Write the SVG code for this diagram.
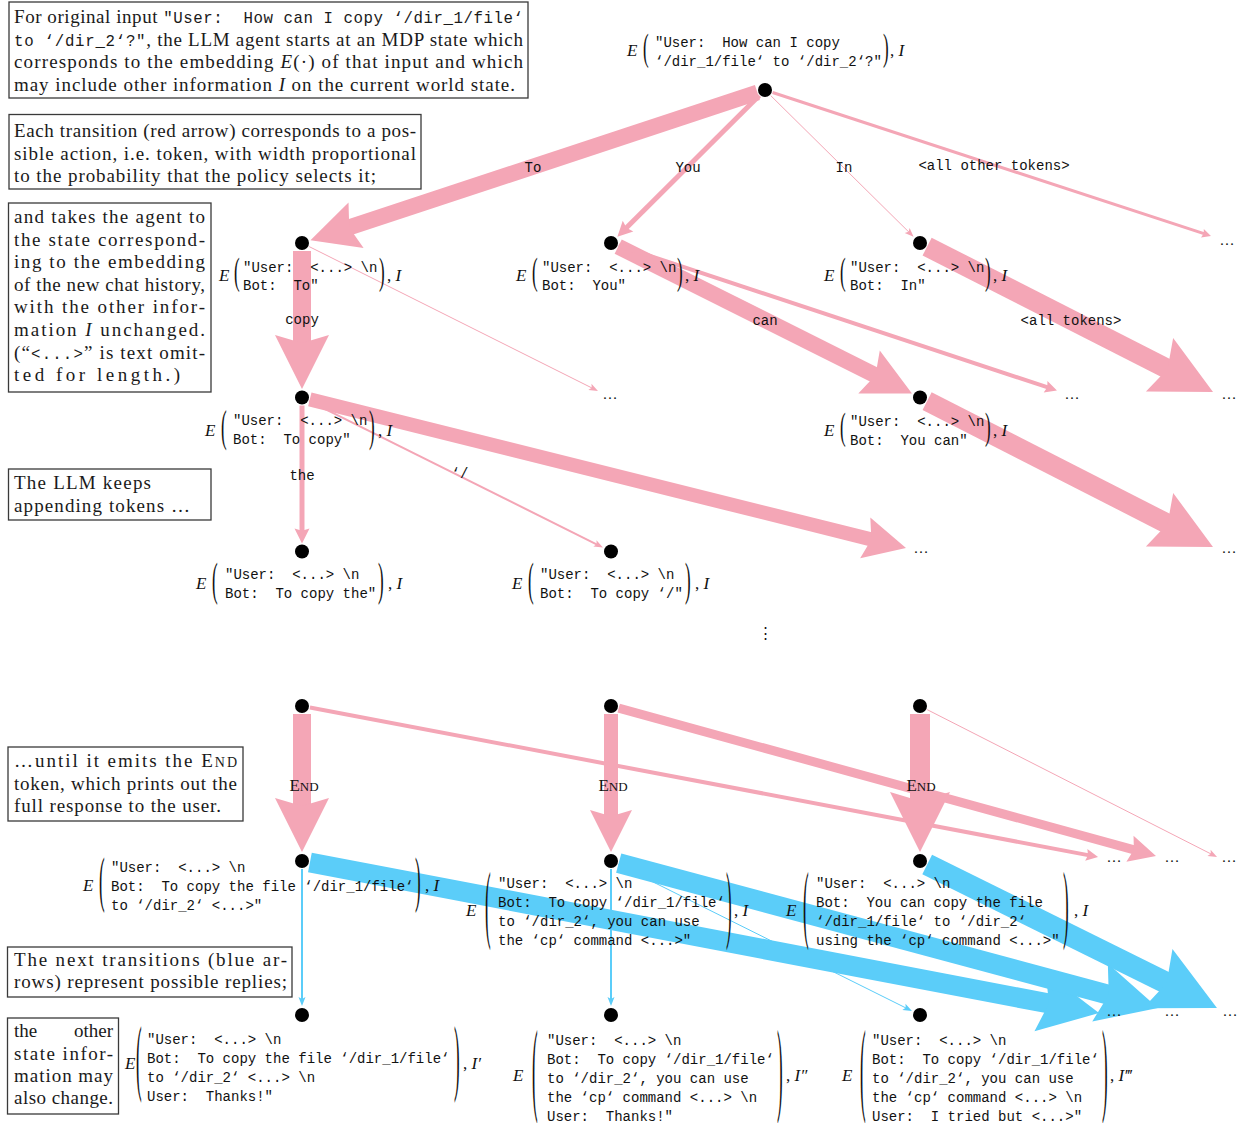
<svg xmlns="http://www.w3.org/2000/svg" width="1239" height="1123" viewBox="0 0 1239 1123" xml:space="preserve">
<style>
text{white-space:pre}
.box{fill:none;stroke:#3a3a3a;stroke-width:1.3}
.bt{font-family:"Liberation Serif","Times New Roman",serif;font-size:19px;fill:#1a1a1a}
.tt{font-family:"Liberation Mono","Courier New",monospace;font-size:15.75px}
.it{font-style:italic}
.lb{font-family:"Liberation Mono","Courier New",monospace;font-size:14px;fill:#111}
.mi{font-family:"Liberation Serif","Times New Roman",serif;font-size:17px;font-style:italic;fill:#111}
.mr{font-family:"Liberation Serif","Times New Roman",serif;font-size:17px;fill:#111}
.par{font-family:"Liberation Serif","Times New Roman",serif;font-size:17px;fill:#111}
.el{font-family:"Liberation Mono","Courier New",monospace;font-size:14px;fill:#111;text-anchor:middle}
.end{font-family:"Liberation Serif","Times New Roman",serif;font-size:17px;fill:#111;text-anchor:middle}
.ell{font-family:"Liberation Serif","Times New Roman",serif;font-size:15px;fill:#111;text-anchor:middle}
.dot{fill:#000}
.r{stroke:#f4a6b6;fill:none}
.b{stroke:#5bcdf9;fill:none}
</style>
<defs>
<marker id="hr" viewBox="0 0 30 30" markerUnits="strokeWidth" markerWidth="3" markerHeight="3" refX="8" refY="15" orient="auto" overflow="visible"><path d="M0,0 L30,15 L0,30 L4.5,15 Z" fill="#f4a6b6"/></marker>
<marker id="hb" viewBox="0 0 30 30" markerUnits="strokeWidth" markerWidth="3" markerHeight="3" refX="8" refY="15" orient="auto" overflow="visible"><path d="M0,0 L30,15 L0,30 L4.5,15 Z" fill="#5bcdf9"/></marker>
<marker id="tr" viewBox="0 0 9 7" markerUnits="userSpaceOnUse" markerWidth="9" markerHeight="7" refX="3" refY="3.5" orient="auto" overflow="visible"><path d="M0,0 L9,3.5 L0,7 L2,3.5 Z" fill="#f4a6b6"/></marker>
<marker id="tb" viewBox="0 0 9 7" markerUnits="userSpaceOnUse" markerWidth="9" markerHeight="7" refX="3" refY="3.5" orient="auto" overflow="visible"><path d="M0,0 L9,3.5 L0,7 L2,3.5 Z" fill="#5bcdf9"/></marker>
</defs>
<rect width="1239" height="1123" fill="#fff"/>

<!-- explanatory boxes -->
<g id="box1">
<rect class="box" x="9" y="2" width="519" height="96"/>
<text class="bt" x="14" y="23" textLength="509" lengthAdjust="spacing">For original input <tspan class="tt">"User:  How can I copy ‘/dir_1/file‘</tspan></text>
<text class="bt" x="14" y="45.5" textLength="509" lengthAdjust="spacing"><tspan class="tt">to ‘/dir_2‘?"</tspan>, the LLM agent starts at an MDP state which</text>
<text class="bt" x="14" y="68" textLength="509" lengthAdjust="spacing">corresponds to the embedding <tspan class="it">E</tspan>(·) of that input and which</text>
<text class="bt" x="14" y="91" textLength="501" lengthAdjust="spacing">may include other information <tspan class="it">I</tspan> on the current world state.</text>
</g>
<g id="box2">
<rect class="box" x="9" y="114.5" width="412" height="74.5"/>
<text class="bt" x="14" y="137" textLength="402" lengthAdjust="spacing">Each transition (red arrow) corresponds to a pos-</text>
<text class="bt" x="14" y="159.5" textLength="402" lengthAdjust="spacing">sible action, i.e. token, with width proportional</text>
<text class="bt" x="14" y="182" textLength="362" lengthAdjust="spacing">to the probability that the policy selects it;</text>
</g>
<g id="box3">
<rect class="box" x="8.5" y="203" width="202.5" height="189"/>
<text class="bt" x="14" y="223" textLength="191" lengthAdjust="spacing">and takes the agent to</text>
<text class="bt" x="14" y="245.5" textLength="191" lengthAdjust="spacing">the state correspond-</text>
<text class="bt" x="14" y="268" textLength="191" lengthAdjust="spacing">ing to the embedding</text>
<text class="bt" x="14" y="290.5" textLength="191" lengthAdjust="spacing">of the new chat history,</text>
<text class="bt" x="14" y="313" textLength="191" lengthAdjust="spacing">with the other infor-</text>
<text class="bt" x="14" y="336" textLength="191" lengthAdjust="spacing">mation <tspan class="it">I</tspan> unchanged.</text>
<text class="bt" x="14" y="358.5" textLength="191" lengthAdjust="spacing">(“<tspan class="tt">&lt;...&gt;</tspan>” is text omit-</text>
<text class="bt" x="14" y="381" textLength="166" lengthAdjust="spacing">ted for length.)</text>
</g>
<g id="box4">
<rect class="box" x="8.5" y="469" width="202.5" height="51"/>
<text class="bt" x="14" y="489" textLength="137" lengthAdjust="spacing">The LLM keeps</text>
<text class="bt" x="14" y="512" textLength="176" lengthAdjust="spacing">appending tokens …</text>
</g>
<g id="box5">
<rect class="box" x="8" y="747" width="235" height="74"/>
<text class="bt" x="14" y="767" textLength="223" lengthAdjust="spacing">…until it emits the E<tspan font-size="14">ND</tspan></text>
<text class="bt" x="14" y="789.5" textLength="223" lengthAdjust="spacing">token, which prints out the</text>
<text class="bt" x="14" y="812" textLength="207" lengthAdjust="spacing">full response to the user.</text>
</g>
<g id="box6">
<rect class="box" x="7.5" y="947" width="284.5" height="50"/>
<text class="bt" x="14" y="966" textLength="273" lengthAdjust="spacing">The next transitions (blue ar-</text>
<text class="bt" x="14" y="988" textLength="273" lengthAdjust="spacing">rows) represent possible replies;</text>
</g>
<g id="box7">
<rect class="box" x="7.5" y="1018" width="111" height="96"/>
<text class="bt" x="14" y="1037">the</text>
<text class="bt" x="113" y="1037" text-anchor="end">other</text>
<text class="bt" x="14" y="1059.5" textLength="99" lengthAdjust="spacing">state infor-</text>
<text class="bt" x="14" y="1082" textLength="99" lengthAdjust="spacing">mation may</text>
<text class="bt" x="14" y="1104" textLength="99" lengthAdjust="spacing">also change.</text>
</g>

<!-- connectors -->
<g id="connectors">
<path class="r" stroke-width="16" d="M757.4,92.5 L343.9,229.2" marker-end="url(#hr)"/>
<path class="r" stroke-width="5" d="M759.3,95.6 L625.2,229" marker-end="url(#hr)"/>
<path class="r" stroke-width="1" d="M770.7,95.6 L909.3,232.5" marker-end="url(#tr)"/>
<path class="r" stroke-width="3" d="M772.6,92.5 L1204.7,233.9" marker-end="url(#hr)"/>
<path class="r" stroke-width="18" d="M302,251 L302,349.4" marker-end="url(#hr)"/>
<path class="r" stroke-width="1" d="M309.2,246.6 L592.6,388.3" marker-end="url(#tr)"/>
<path class="r" stroke-width="16" d="M618.2,246.6 L880.5,377.8" marker-end="url(#hr)"/>
<path class="r" stroke-width="4" d="M618.6,245.5 L1048.6,387.7" marker-end="url(#hr)"/>
<path class="r" stroke-width="20" d="M927.1,246.6 L1173.8,372.1" marker-end="url(#hr)"/>
<path class="r" stroke-width="5" d="M302,405.5 L302,532.5" marker-end="url(#hr)"/>
<path class="r" stroke-width="2" d="M309.2,401.1 L597.6,544.8" marker-end="url(#tr)"/>
<path class="r" stroke-width="14" d="M309.8,399.4 L876.1,540.6" marker-end="url(#hr)"/>
<path class="r" stroke-width="20" d="M927.1,401.1 L1173.8,527" marker-end="url(#hr)"/>
<path class="r" stroke-width="18" d="M302,714 L302,812.4" marker-end="url(#hr)"/>
<path class="r" stroke-width="4" d="M309.9,707.5 L1089.4,855.4" marker-end="url(#hr)"/>
<path class="r" stroke-width="14" d="M611,714 L611,821.2" marker-end="url(#hr)"/>
<path class="r" stroke-width="9" d="M618.7,708.1 L1136.9,850.7" marker-end="url(#hr)"/>
<path class="r" stroke-width="20" d="M920,714 L920,808" marker-end="url(#hr)"/>
<path class="r" stroke-width="1" d="M927.1,709.6 L1211.7,854.3" marker-end="url(#tr)"/>
<path class="b" stroke-width="2" d="M302,869 L302,1000" marker-end="url(#tb)"/>
<path class="b" stroke-width="20" d="M309.9,862.5 L1055.8,1004.8" marker-end="url(#hb)"/>
<path class="b" stroke-width="2" d="M611,869 L611,1000" marker-end="url(#tb)"/>
<path class="b" stroke-width="1" d="M618.2,864.6 L906.6,1008.3" marker-end="url(#tb)"/>
<path class="b" stroke-width="20" d="M618.7,863.1 L1115.5,996.6" marker-end="url(#hb)"/>
<path class="b" stroke-width="22" d="M927.2,864.5 L1173.6,986.5" marker-end="url(#hb)"/>
<text class="el" x="533" y="171.5">To</text>
<text class="el" x="688" y="171.5">You</text>
<text class="el" x="844" y="171.5">In</text>
<text class="el" x="994" y="169.5">&lt;all other tokens&gt;</text>
<text class="el" x="302" y="323.5">copy</text>
<text class="el" x="765" y="324.5">can</text>
<text class="el" x="1071" y="324.5">&lt;all tokens&gt;</text>
<text class="el" x="302" y="479.5">the</text>
<text class="el" x="460" y="478">‘/</text>
<text class="end" x="304" y="791">E<tspan font-size="13">ND</tspan></text>
<text class="end" x="613" y="791">E<tspan font-size="13">ND</tspan></text>
<text class="end" x="921" y="791">E<tspan font-size="13">ND</tspan></text>
</g>

<!-- open ends -->
<g id="open-ends">
<text class="ell" x="1227" y="244.5">…</text>
<text class="ell" x="610" y="398.5">…</text>
<text class="ell" x="1072" y="398.5">…</text>
<text class="ell" x="1229" y="398.5">…</text>
<text class="ell" x="921" y="552.5">…</text>
<text class="ell" x="1229" y="552.5">…</text>
<text class="ell" x="1114" y="861.5">…</text>
<text class="ell" x="1172" y="861.5">…</text>
<text class="ell" x="1229" y="861.5">…</text>
<text class="ell" x="1114" y="1015.5">…</text>
<text class="ell" x="1172" y="1015.5">…</text>
<text class="ell" x="1230" y="1015.5">…</text>
<text class="ell" x="765" y="638" font-size="16">⋮</text>
</g>

<!-- nodes -->
<g id="n-root">
<circle class="dot" cx="765" cy="90" r="7"/>
<text class="mi" x="627" y="55.5">E</text>
<text class="par" transform="translate(643 51) scale(1 2.2)" y="4.25">(</text>
<text class="lb"><tspan x="655" y="46.5">"User:  How can I copy</tspan><tspan x="655" y="65.5">‘/dir_1/file‘ to ‘/dir_2‘?"</tspan></text>
<text class="par" transform="translate(883 51) scale(1 2.2)" y="4.25">)</text>
<text class="mr" x="890" y="55.5">, <tspan class="mi">I</tspan></text>
</g>
<g id="n-to">
<circle class="dot" cx="302" cy="243" r="7"/>
<text class="mi" x="219" y="280.5">E</text>
<text class="par" transform="translate(234 275) scale(1 2.2)" y="4.25">(</text>
<text class="lb"><tspan x="243" y="271.5">"User:  &lt;...&gt; \n</tspan><tspan x="243" y="290">Bot:  To"</tspan></text>
<text class="par" transform="translate(379 275) scale(1 2.2)" y="4.25">)</text>
<text class="mr" x="387" y="280.5">, <tspan class="mi">I</tspan></text>
</g>
<g id="n-you">
<circle class="dot" cx="611" cy="243" r="7"/>
<text class="mi" x="516" y="280.5">E</text>
<text class="par" transform="translate(532 275) scale(1 2.2)" y="4.25">(</text>
<text class="lb"><tspan x="542" y="271.5">"User:  &lt;...&gt; \n</tspan><tspan x="542" y="290">Bot:  You"</tspan></text>
<text class="par" transform="translate(677 275) scale(1 2.2)" y="4.25">)</text>
<text class="mr" x="685" y="280.5">, <tspan class="mi">I</tspan></text>
</g>
<g id="n-in">
<circle class="dot" cx="920" cy="243" r="7"/>
<text class="mi" x="824" y="280.5">E</text>
<text class="par" transform="translate(840 275) scale(1 2.2)" y="4.25">(</text>
<text class="lb"><tspan x="850" y="271.5">"User:  &lt;...&gt; \n</tspan><tspan x="850" y="290">Bot:  In"</tspan></text>
<text class="par" transform="translate(985 275) scale(1 2.2)" y="4.25">)</text>
<text class="mr" x="993" y="280.5">, <tspan class="mi">I</tspan></text>
</g>
<g id="n-tocopy">
<circle class="dot" cx="302" cy="397.5" r="7"/>
<text class="mi" x="205" y="435.5">E</text>
<text class="par" transform="translate(221 430) scale(1 2.6)" y="4.25">(</text>
<text class="lb"><tspan x="233" y="425">"User:  &lt;...&gt; \n</tspan><tspan x="233" y="444">Bot:  To copy"</tspan></text>
<text class="par" transform="translate(369 430) scale(1 2.6)" y="4.25">)</text>
<text class="mr" x="378" y="435.5">, <tspan class="mi">I</tspan></text>
</g>
<g id="n-youcan">
<circle class="dot" cx="920" cy="397.5" r="7"/>
<text class="mi" x="824" y="435.5">E</text>
<text class="par" transform="translate(840 430) scale(1 2.2)" y="4.25">(</text>
<text class="lb"><tspan x="850" y="426">"User:  &lt;...&gt; \n</tspan><tspan x="850" y="444.5">Bot:  You can"</tspan></text>
<text class="par" transform="translate(985 430) scale(1 2.2)" y="4.25">)</text>
<text class="mr" x="993" y="435.5">, <tspan class="mi">I</tspan></text>
</g>
<g id="n-tocopythe">
<circle class="dot" cx="302" cy="551.5" r="7"/>
<text class="mi" x="196" y="589">E</text>
<text class="par" transform="translate(212 583.5) scale(1 2.75)" y="4.25">(</text>
<text class="lb"><tspan x="225" y="578.5">"User:  &lt;...&gt; \n</tspan><tspan x="225" y="597.5">Bot:  To copy the"</tspan></text>
<text class="par" transform="translate(378 583.5) scale(1 2.75)" y="4.25">)</text>
<text class="mr" x="388" y="589">, <tspan class="mi">I</tspan></text>
</g>
<g id="n-tocopyslash">
<circle class="dot" cx="611" cy="551.5" r="7"/>
<text class="mi" x="512" y="589">E</text>
<text class="par" transform="translate(528 583.5) scale(1 2.75)" y="4.25">(</text>
<text class="lb"><tspan x="540" y="578.5">"User:  &lt;...&gt; \n</tspan><tspan x="540" y="597.5">Bot:  To copy ‘/"</tspan></text>
<text class="par" transform="translate(685 583.5) scale(1 2.75)" y="4.25">)</text>
<text class="mr" x="695" y="589">, <tspan class="mi">I</tspan></text>
</g>
<g id="n-h1"><circle class="dot" cx="302" cy="706" r="7"/></g>
<g id="n-h2"><circle class="dot" cx="611" cy="706" r="7"/></g>
<g id="n-h3"><circle class="dot" cx="920" cy="706" r="7"/></g>
<g id="n-end1">
<circle class="dot" cx="302" cy="861" r="7"/>
<text class="mi" x="83" y="890.5">E</text>
<text class="par" transform="translate(99 885) scale(1 3.6)" y="4.25">(</text>
<text class="lb"><tspan x="111" y="871.5">"User:  &lt;...&gt; \n</tspan><tspan x="111" y="890.5">Bot:  To copy the file ‘/dir_1/file‘</tspan><tspan x="111" y="909.5">to ‘/dir_2‘ &lt;...&gt;"</tspan></text>
<text class="par" transform="translate(415 885) scale(1 3.6)" y="4.25">)</text>
<text class="mr" x="425" y="890.5">, <tspan class="mi">I</tspan></text>
</g>
<g id="n-end2">
<circle class="dot" cx="611" cy="861" r="7"/>
<text class="mi" x="466" y="916">E</text>
<text class="par" transform="translate(485 910) scale(1 5.1)" y="4.25">(</text>
<text class="lb"><tspan x="498" y="887.5">"User:  &lt;...&gt; \n</tspan><tspan x="498" y="906.5">Bot:  To copy ‘/dir_1/file‘</tspan><tspan x="498" y="925.5">to ‘/dir_2‘, you can use</tspan><tspan x="498" y="944.5">the ‘cp‘ command &lt;...&gt;"</tspan></text>
<text class="par" transform="translate(726 910) scale(1 5.1)" y="4.25">)</text>
<text class="mr" x="734" y="916">, <tspan class="mi">I</tspan></text>
</g>
<g id="n-end3">
<circle class="dot" cx="920" cy="861" r="7"/>
<text class="mi" x="786" y="916">E</text>
<text class="par" transform="translate(803 910) scale(1 5.1)" y="4.25">(</text>
<text class="lb"><tspan x="816" y="887.5">"User:  &lt;...&gt; \n</tspan><tspan x="816" y="906.5">Bot:  You can copy the file</tspan><tspan x="816" y="925.5">‘/dir_1/file‘ to ‘/dir_2‘</tspan><tspan x="816" y="944.5">using the ‘cp‘ command &lt;...&gt;"</tspan></text>
<text class="par" transform="translate(1063 910) scale(1 5.1)" y="4.25">)</text>
<text class="mr" x="1074" y="916">, <tspan class="mi">I</tspan></text>
</g>
<g id="n-reply1">
<circle class="dot" cx="302" cy="1015" r="7"/>
<text class="mi" x="125" y="1069">E</text>
<text class="par" transform="translate(136 1064) scale(1 5)" y="4.25">(</text>
<text class="lb"><tspan x="147" y="1043.5">"User:  &lt;...&gt; \n</tspan><tspan x="147" y="1062.5">Bot:  To copy the file ‘/dir_1/file‘</tspan><tspan x="147" y="1081.5">to ‘/dir_2‘ &lt;...&gt; \n</tspan><tspan x="147" y="1100.5">User:  Thanks!"</tspan></text>
<text class="par" transform="translate(454 1064) scale(1 5)" y="4.25">)</text>
<text class="mr" x="463" y="1069">, <tspan class="mi">I′</tspan></text>
</g>
<g id="n-reply2">
<circle class="dot" cx="611" cy="1015" r="7"/>
<text class="mi" x="513" y="1081">E</text>
<text class="par" transform="translate(532 1076) scale(1 6.1)" y="4.25">(</text>
<text class="lb"><tspan x="547" y="1044.5">"User:  &lt;...&gt; \n</tspan><tspan x="547" y="1063.5">Bot:  To copy ‘/dir_1/file‘</tspan><tspan x="547" y="1082.5">to ‘/dir_2‘, you can use</tspan><tspan x="547" y="1101.5">the ‘cp‘ command &lt;...&gt; \n</tspan><tspan x="547" y="1120.5">User:  Thanks!"</tspan></text>
<text class="par" transform="translate(777 1076) scale(1 6.1)" y="4.25">)</text>
<text class="mr" x="786" y="1081">, <tspan class="mi">I″</tspan></text>
</g>
<g id="n-reply3">
<circle class="dot" cx="920" cy="1015" r="7"/>
<text class="mi" x="842" y="1081">E</text>
<text class="par" transform="translate(860 1076) scale(1 6.1)" y="4.25">(</text>
<text class="lb"><tspan x="872" y="1044.5">"User:  &lt;...&gt; \n</tspan><tspan x="872" y="1063.5">Bot:  To copy ‘/dir_1/file‘</tspan><tspan x="872" y="1082.5">to ‘/dir_2‘, you can use</tspan><tspan x="872" y="1101.5">the ‘cp‘ command &lt;...&gt; \n</tspan><tspan x="872" y="1120.5">User:  I tried but &lt;...&gt;"</tspan></text>
<text class="par" transform="translate(1102 1076) scale(1 6.1)" y="4.25">)</text>
<text class="mr" x="1110" y="1081">, <tspan class="mi">I‴</tspan></text>
</g>
</svg>
